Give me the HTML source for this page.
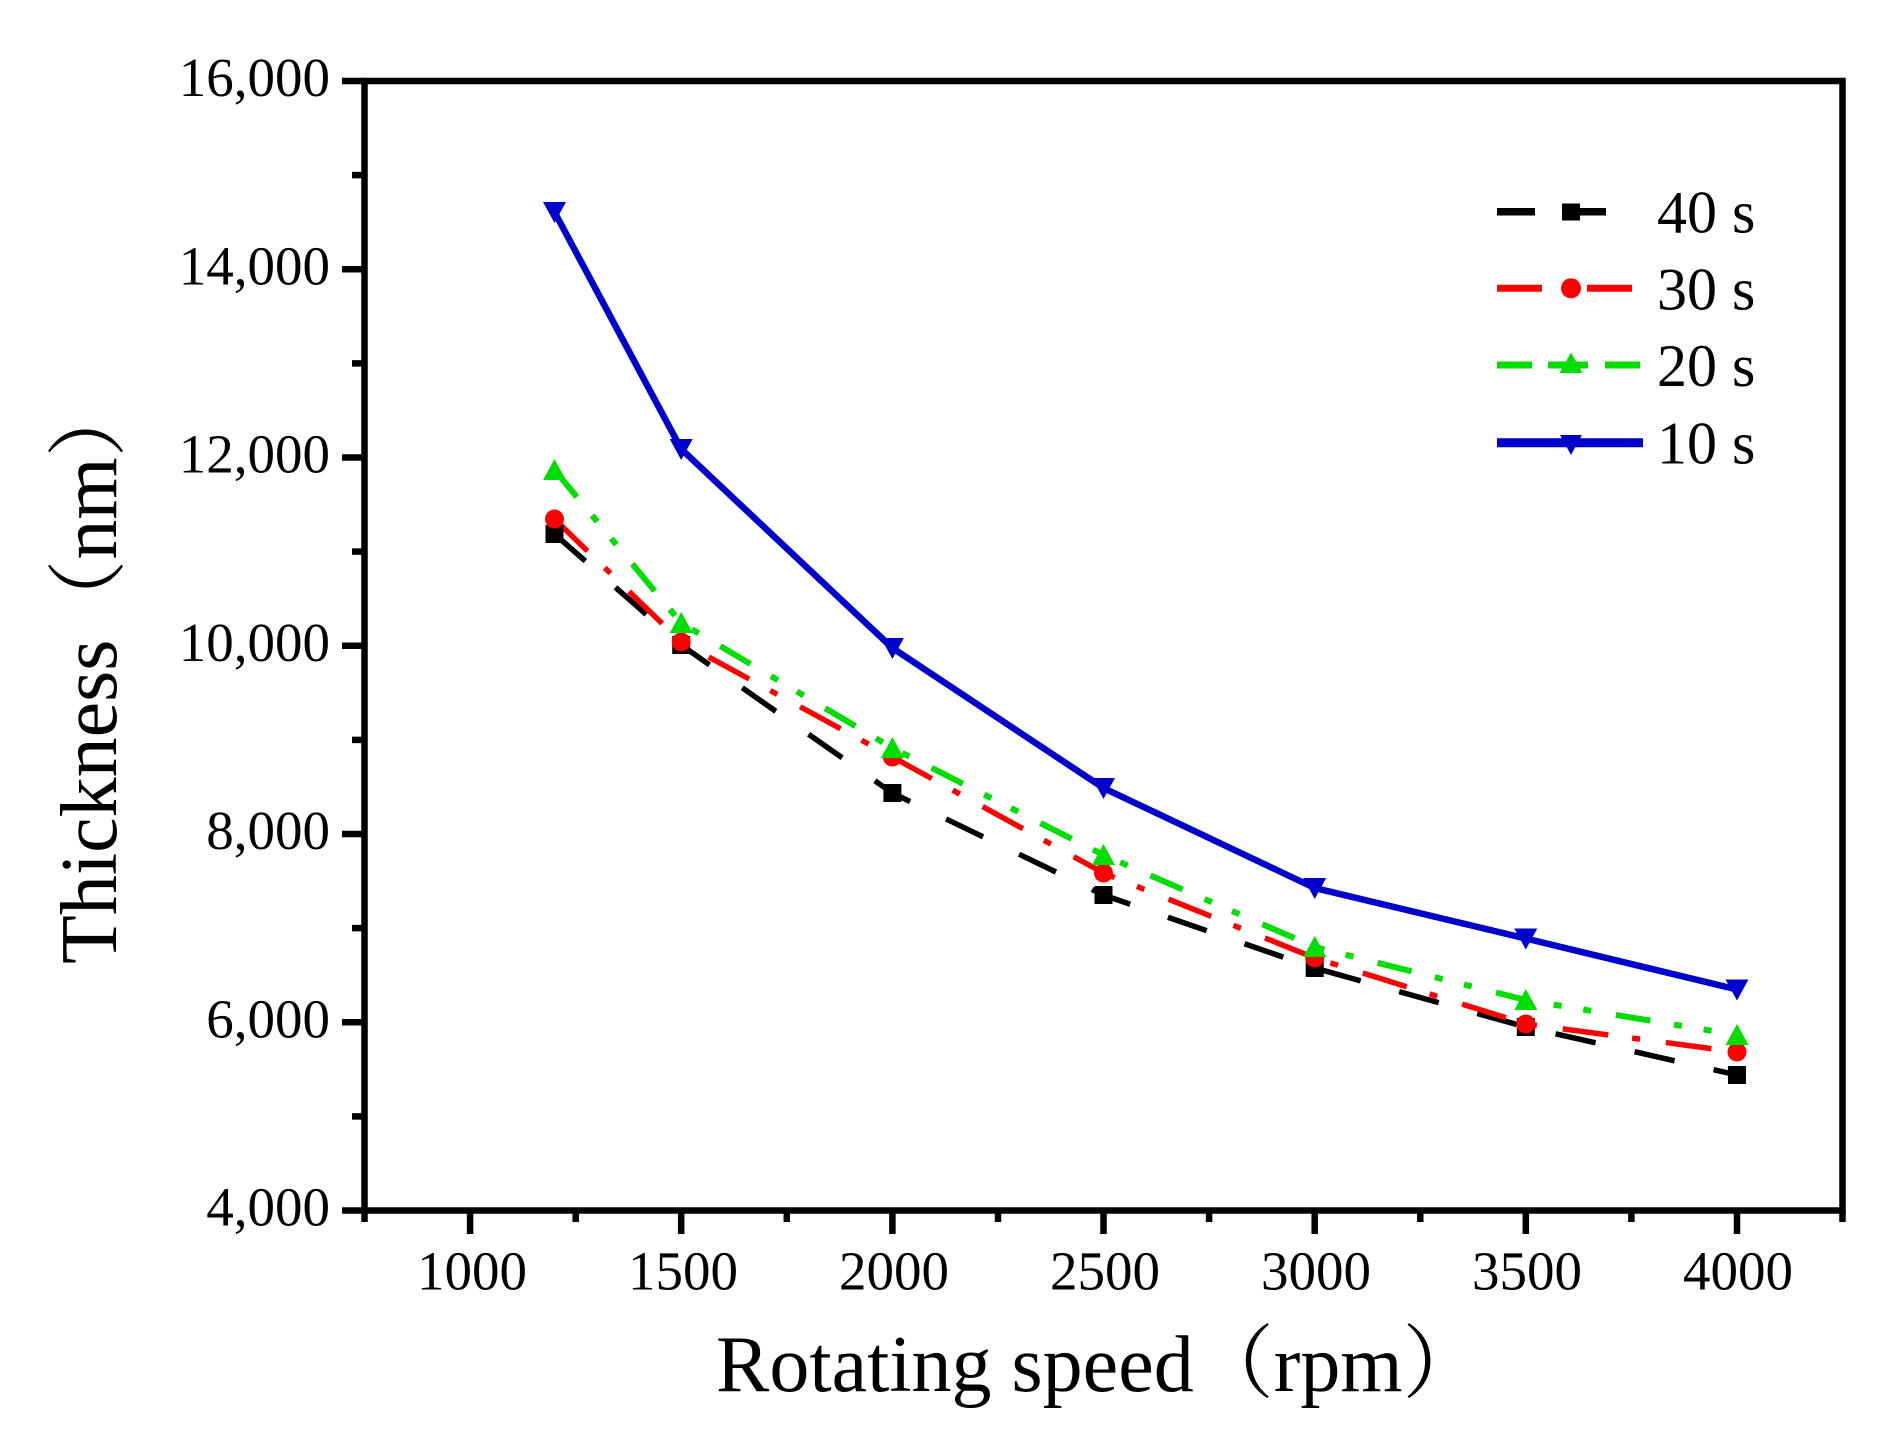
<!DOCTYPE html>
<html>
<head>
<meta charset="utf-8">
<style>
  html, body { margin: 0; padding: 0; background: #ffffff; }
  svg { display: block; }
  text { font-family: "Liberation Serif", "Noto Serif CJK SC", serif; fill: #000; }
</style>
</head>
<body>
<svg width="1901" height="1455" viewBox="0 0 1901 1455" xmlns="http://www.w3.org/2000/svg">
  <rect x="0" y="0" width="1901" height="1455" fill="#ffffff"/>

  <!-- Data series -->
  <!-- 40 s black dashed -->
  <polyline fill="none" stroke="#000000" stroke-width="5.5" stroke-dasharray="41 40"
    points="554.5,534 681.2,645 892.4,793 1103.5,895 1314.7,968 1525.8,1027 1737,1075"/>
  <!-- 30 s red dash-dot -->
  <polyline fill="none" stroke="#ff0000" stroke-width="5.5" stroke-dasharray="46 24 8 26"
    points="554.5,519 681.2,642 892.4,757 1103.5,873 1314.7,958 1525.8,1024 1737,1052"/>
  <!-- 20 s green dash-dot-dot -->
  <polyline fill="none" stroke="#00dd00" stroke-width="6" stroke-dasharray="35 24 8 22 8 25"
    points="554.5,470 681.2,623 892.4,748 1103.5,855 1314.7,947 1525.8,1000 1737,1035"/>
  <!-- 10 s blue solid -->
  <polyline fill="none" stroke="#0000cc" stroke-width="6.5"
    points="554.5,212 681.2,449 892.4,648 1103.5,788 1314.7,888 1525.8,938.5 1737,989.5"/>

  <!-- markers: black squares -->
  <g fill="#000000">
    <rect x="545.5" y="525" width="18" height="18"/>
    <rect x="672.2" y="636" width="18" height="18"/>
    <rect x="883.4" y="784" width="18" height="18"/>
    <rect x="1094.5" y="886" width="18" height="18"/>
    <rect x="1305.7" y="959" width="18" height="18"/>
    <rect x="1516.8" y="1018" width="18" height="18"/>
    <rect x="1728" y="1066" width="18" height="18"/>
  </g>
  <!-- red circles -->
  <g fill="#ff0000">
    <circle cx="554.5" cy="519" r="9.5"/>
    <circle cx="681.2" cy="642" r="9.5"/>
    <circle cx="892.4" cy="757" r="9.5"/>
    <circle cx="1103.5" cy="873" r="9.5"/>
    <circle cx="1314.7" cy="958" r="9.5"/>
    <circle cx="1525.8" cy="1024" r="9.5"/>
    <circle cx="1737" cy="1052" r="9.5"/>
  </g>
  <!-- green up triangles -->
  <g fill="#00dd00">
    <polygon points="554.5,459 566,480 543,480"/>
    <polygon points="681.2,612 692.7,633 669.7,633"/>
    <polygon points="892.4,737 903.9,758 880.9,758"/>
    <polygon points="1103.5,844 1115,865 1092,865"/>
    <polygon points="1314.7,936 1326.2,957 1303.2,957"/>
    <polygon points="1525.8,989 1537.3,1010 1514.3,1010"/>
    <polygon points="1737,1024 1748.5,1045 1725.5,1045"/>
  </g>
  <!-- blue down triangles -->
  <g fill="#0000cc">
    <polygon points="543,202 566,202 554.5,223"/>
    <polygon points="669.7,439 692.7,439 681.2,460"/>
    <polygon points="880.9,638 903.9,638 892.4,659"/>
    <polygon points="1092,778 1115,778 1103.5,799"/>
    <polygon points="1303.2,878 1326.2,878 1314.7,899"/>
    <polygon points="1514.3,928.5 1537.3,928.5 1525.8,949.5"/>
    <polygon points="1725.5,979.5 1748.5,979.5 1737,1000.5"/>
  </g>

  <!-- Axes frame -->
  <rect x="364.5" y="81" width="1478" height="1129.5" fill="none" stroke="#000" stroke-width="6.5"/>

  <!-- Y ticks -->
  <g stroke="#000" stroke-width="6.5">
    <line x1="342" y1="81" x2="365" y2="81"/>
    <line x1="342" y1="269.25" x2="365" y2="269.25"/>
    <line x1="342" y1="457.5" x2="365" y2="457.5"/>
    <line x1="342" y1="645.75" x2="365" y2="645.75"/>
    <line x1="342" y1="834" x2="365" y2="834"/>
    <line x1="342" y1="1022.25" x2="365" y2="1022.25"/>
    <line x1="342" y1="1210.5" x2="365" y2="1210.5"/>
    <line x1="352" y1="175.1" x2="365" y2="175.1"/>
    <line x1="352" y1="363.4" x2="365" y2="363.4"/>
    <line x1="352" y1="551.6" x2="365" y2="551.6"/>
    <line x1="352" y1="739.9" x2="365" y2="739.9"/>
    <line x1="352" y1="928.1" x2="365" y2="928.1"/>
    <line x1="352" y1="1116.4" x2="365" y2="1116.4"/>
  </g>
  <!-- X ticks -->
  <g stroke="#000" stroke-width="6.5">
    <line x1="470.1" y1="1210" x2="470.1" y2="1234"/>
    <line x1="681.2" y1="1210" x2="681.2" y2="1234"/>
    <line x1="892.4" y1="1210" x2="892.4" y2="1234"/>
    <line x1="1103.5" y1="1210" x2="1103.5" y2="1234"/>
    <line x1="1314.7" y1="1210" x2="1314.7" y2="1234"/>
    <line x1="1525.8" y1="1210" x2="1525.8" y2="1234"/>
    <line x1="1737" y1="1210" x2="1737" y2="1234"/>
    <line x1="364.5" y1="1210" x2="364.5" y2="1222"/>
    <line x1="575.7" y1="1210" x2="575.7" y2="1222"/>
    <line x1="786.8" y1="1210" x2="786.8" y2="1222"/>
    <line x1="998" y1="1210" x2="998" y2="1222"/>
    <line x1="1209.1" y1="1210" x2="1209.1" y2="1222"/>
    <line x1="1420.3" y1="1210" x2="1420.3" y2="1222"/>
    <line x1="1631.4" y1="1210" x2="1631.4" y2="1222"/>
    <line x1="1842.5" y1="1210" x2="1842.5" y2="1222"/>
  </g>

  <!-- Y tick labels -->
  <g font-size="55" text-anchor="end">
    <text x="330" y="96">16,000</text>
    <text x="330" y="284.25">14,000</text>
    <text x="330" y="472.5">12,000</text>
    <text x="330" y="660.75">10,000</text>
    <text x="330" y="849">8,000</text>
    <text x="330" y="1037.25">6,000</text>
    <text x="330" y="1225.5">4,000</text>
  </g>
  <!-- X tick labels -->
  <g font-size="55" text-anchor="middle">
    <text x="472" y="1289.5">1000</text>
    <text x="683" y="1289.5">1500</text>
    <text x="894" y="1289.5">2000</text>
    <text x="1105" y="1289.5">2500</text>
    <text x="1316" y="1289.5">3000</text>
    <text x="1527" y="1289.5">3500</text>
    <text x="1738" y="1289.5">4000</text>
  </g>

  <!-- Axis titles -->
  <text x="716" y="1391" font-size="80">Rotating speed（rpm）</text>
  <text transform="translate(116,964) rotate(-90)" font-size="80">Thickness（nm）</text>

  <!-- Legend -->
  <g>
    <!-- 40 s -->
    <line x1="1497" y1="211.7" x2="1535" y2="211.7" stroke="#000" stroke-width="7.5"/>
    <line x1="1580" y1="211.7" x2="1606" y2="211.7" stroke="#000" stroke-width="7.5"/>
    <rect x="1562" y="203.5" width="18" height="17" fill="#000"/>
    <text x="1657" y="232.7" font-size="60">40 s</text>
    <!-- 30 s -->
    <line x1="1497" y1="288.3" x2="1542" y2="288.3" stroke="#ff0000" stroke-width="7"/>
    <line x1="1587" y1="288.3" x2="1632" y2="288.3" stroke="#ff0000" stroke-width="7"/>
    <circle cx="1571" cy="288.3" r="10" fill="#ff0000"/>
    <text x="1657" y="309.3" font-size="60">30 s</text>
    <!-- 20 s -->
    <line x1="1497" y1="365" x2="1532" y2="365" stroke="#00dd00" stroke-width="7"/>
    <line x1="1548" y1="365" x2="1588" y2="365" stroke="#00dd00" stroke-width="7"/>
    <line x1="1605" y1="365" x2="1640" y2="365" stroke="#00dd00" stroke-width="7"/>
    <polygon points="1571,352.5 1582.5,373 1559.5,373" fill="#00dd00"/>
    <text x="1657" y="386" font-size="60">20 s</text>
    <!-- 10 s -->
    <line x1="1497" y1="442.7" x2="1643" y2="442.7" stroke="#0000cc" stroke-width="9"/>
    <polygon points="1560,435 1582,435 1571,455" fill="#0000cc"/>
    <text x="1657" y="463.5" font-size="60">10 s</text>
  </g>
</svg>
</body>
</html>
